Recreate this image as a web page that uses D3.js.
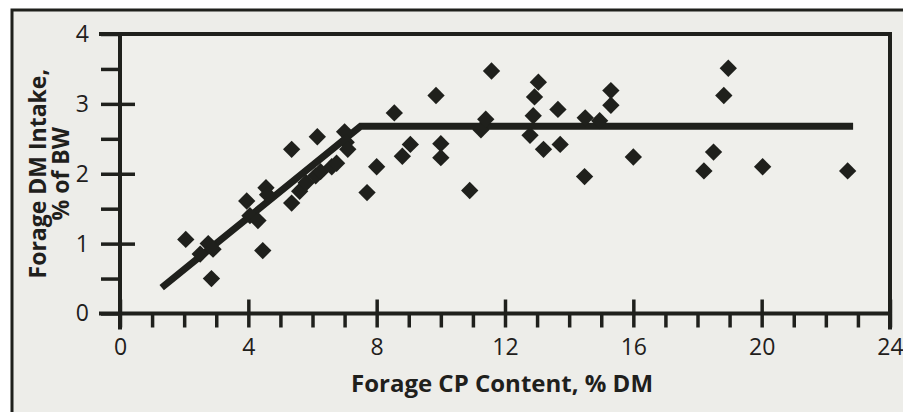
<!DOCTYPE html>
<html>
<head>
<meta charset="utf-8">
<script src="https://cdn.jsdelivr.net/npm/d3@7"></script>
<style>
  body { margin: 0; background: #fff; }
  text { font-family: "Open Sans", sans-serif; fill: #1f201c; }
</style>
</head>
<body>
<script>
// forage CP content (% DM) vs forage DM intake (% of BW)
var cpContent = [2.05, 2.5, 2.75, 2.9, 2.85, 3.95, 4.05, 4.3, 4.45, 4.55, 4.6,
  5.35, 5.35, 5.6, 5.8, 6.15, 6.1, 6.25, 6.6, 6.75, 7.0, 7.05, 7.1, 7.7, 8.0,
  8.55, 8.8, 9.05, 9.85, 10.0, 10.0, 10.9, 11.25, 11.4, 11.58, 12.78, 12.88,
  12.92, 13.04, 13.2, 13.65, 13.72, 14.48, 14.5, 14.95, 15.3, 15.3, 16.0,
  18.2, 18.5, 18.82, 18.96, 20.03, 22.68];
var dmIntake = [1.06, 0.85, 1.0, 0.92, 0.5, 1.61, 1.4, 1.33, 0.9, 1.8, 1.7,
  2.35, 1.58, 1.75, 1.87, 2.53, 1.97, 2.03, 2.1, 2.15, 2.6, 2.45, 2.35, 1.73, 2.1,
  2.87, 2.25, 2.42, 3.12, 2.43, 2.23, 1.76, 2.63, 2.78, 3.47, 2.55, 2.83,
  3.1, 3.31, 2.35, 2.92, 2.42, 1.96, 2.8, 2.76, 3.19, 2.98, 2.24,
  2.04, 2.31, 3.12, 3.51, 2.1, 2.04];

// broken-line fit
var lineCp = [1.3, 7.5, 22.85];
var lineIntake = [0.37, 2.68, 2.68];

var xTicksMajor = [0, 4, 8, 12, 16, 20, 24];
var xTicksMinor = d3.range(0, 25, 1);
var yTicksMajor = [0, 1, 2, 3, 4];
var yTicksMinor = d3.range(0, 4.01, 0.5);

var W = 903, H = 412;
var ink = "#1f201c";

var svg = d3.select("body").append("svg")
  .attr("width", W).attr("height", H);

// outer frame
svg.append("rect")
  .attr("x", 12).attr("y", 10)
  .attr("width", 900).attr("height", 410)
  .attr("fill", "#ededE9").attr("stroke", ink).attr("stroke-width", 3);

var xScale = d3.scaleLinear().domain([0, 24]).range([120, 890]);
var yScale = d3.scaleLinear().domain([0, 4]).range([313.5, 34]);

// plot area
svg.append("rect")
  .attr("x", xScale(0)).attr("y", yScale(4))
  .attr("width", xScale(24) - xScale(0))
  .attr("height", yScale(0) - yScale(4))
  .attr("fill", "#efefeb");

function styleAxis(g) {
  g.select(".domain").remove();
  g.selectAll(".tick line").attr("stroke", ink).attr("stroke-width", 3.5);
}

// x axis: minor ticks down, major ticks also up
svg.append("g")
  .attr("transform", "translate(0," + yScale(0) + ")")
  .call(d3.axisBottom(xScale).tickValues(xTicksMinor).tickSize(14).tickFormat(""))
  .call(styleAxis);
svg.append("g")
  .attr("transform", "translate(0," + yScale(0) + ")")
  .call(d3.axisTop(xScale).tickValues(xTicksMajor).tickSize(14).tickFormat(""))
  .call(styleAxis);
svg.append("g")
  .attr("transform", "translate(0," + yScale(0) + ")")
  .call(d3.axisBottom(xScale).tickValues(xTicksMajor).tickSize(0).tickPadding(25)
    .tickFormat(d3.format("d")))
  .call(styleAxis)
  .selectAll("text")
  .style("font-size", "23px").attr("fill", ink);

// y axis: minor ticks left, major ticks also right
svg.append("g")
  .attr("transform", "translate(" + xScale(0) + ",0)")
  .call(d3.axisLeft(yScale).tickValues(yTicksMinor).tickSize(19).tickFormat(""))
  .call(styleAxis);
svg.append("g")
  .attr("transform", "translate(" + xScale(0) + ",0)")
  .call(d3.axisRight(yScale).tickValues(yTicksMajor.slice(1, 4)).tickSize(15).tickFormat(""))
  .call(styleAxis);
svg.append("g")
  .attr("transform", "translate(" + xScale(0) + ",0)")
  .call(d3.axisLeft(yScale).tickValues(yTicksMajor).tickSize(0).tickPadding(31)
    .tickFormat(d3.format("d")))
  .call(styleAxis)
  .selectAll("text")
  .style("font-size", "23px").attr("fill", ink);

// axis lines and box
var box = [
  [xScale(0) - 19, yScale(0), xScale(24), yScale(0)],
  [xScale(0) - 19, yScale(4), xScale(24), yScale(4)],
  [xScale(0), yScale(4), xScale(0), yScale(0) + 14],
  [xScale(24), yScale(4), xScale(24), yScale(0) + 14]
];
svg.selectAll("line.box").data(box).enter().append("line")
  .attr("class", "box")
  .attr("x1", function(d) { return d[0]; })
  .attr("y1", function(d) { return d[1]; })
  .attr("x2", function(d) { return d[2]; })
  .attr("y2", function(d) { return d[3]; })
  .attr("stroke", ink).attr("stroke-width", 4)
  .attr("stroke-linecap", "square");

// fitted line
var fit = d3.line()
  .x(function(d, i) { return xScale(lineCp[i]); })
  .y(function(d, i) { return yScale(lineIntake[i]); });
svg.append("path")
  .attr("d", fit(lineCp))
  .attr("fill", "none").attr("stroke", ink)
  .attr("stroke-width", 7).attr("stroke-linejoin", "miter");

// diamonds
var diamond = d3.symbol().type(d3.symbolSquare).size(150);
svg.selectAll("path.pt").data(cpContent).enter().append("path")
  .attr("class", "pt")
  .attr("d", diamond)
  .attr("transform", function(d, i) {
    return "translate(" + xScale(d) + "," + yScale(dmIntake[i]) + ") rotate(45)";
  })
  .attr("fill", ink);

// titles
svg.append("text")
  .attr("x", 502)
  .attr("y", 392)
  .attr("text-anchor", "middle")
  .style("font-size", "24px").attr("font-weight", "bold")
  .text("Forage CP Content, % DM");

var yt = svg.append("text")
  .attr("transform", "translate(0," + yScale(2) + ") rotate(-90)")
  .attr("text-anchor", "middle")
  .style("font-size", "23px").attr("font-weight", "bold");
yt.append("tspan").attr("x", 0).attr("y", 46).text("Forage DM Intake,");
yt.append("tspan").attr("x", 0).attr("y", 69).text("% of BW");
</script>
</body>
</html>
